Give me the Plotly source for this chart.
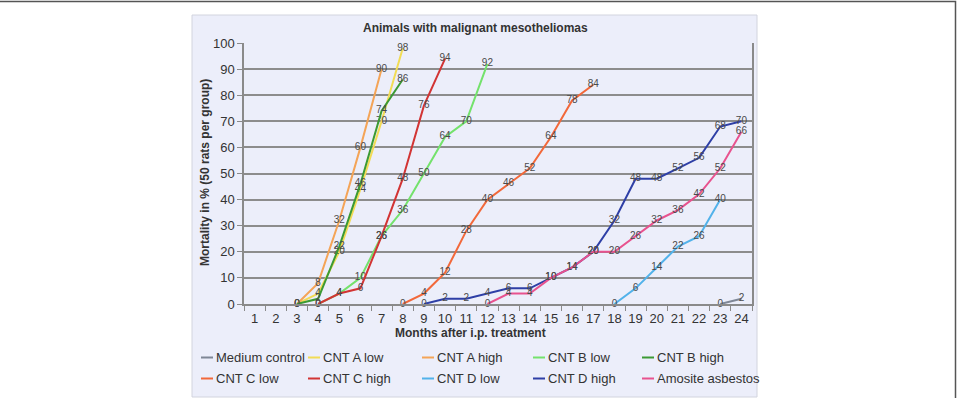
import plotly.graph_objects as go

months = list(range(1, 25))
tick_labels = [str(m) for m in months]

series_names = ["Medium control", "CNT A low", "CNT A high", "CNT B low", "CNT B high",
                "CNT C low", "CNT C high", "CNT D low", "CNT D high", "Amosite asbestos"]

medium_x = [23, 24]
medium_y = [0, 2]
a_low_x = [3, 4, 5, 6, 7, 8]
a_low_y = [0, 4, 20, 44, 70, 98]
a_high_x = [3, 4, 5, 6, 7]
a_high_y = [0, 8, 32, 60, 90]
b_low_x = [4, 5, 6, 7, 8, 9, 10, 11, 12]
b_low_y = [0, 4, 10, 26, 36, 50, 64, 70, 92]
b_high_x = [3, 4, 5, 6, 7, 8]
b_high_y = [0, 2, 22, 46, 74, 86]
c_low_x = [8, 9, 10, 11, 12, 13, 14, 15, 16, 17]
c_low_y = [0, 4, 12, 28, 40, 46, 52, 64, 78, 84]
c_high_x = [4, 5, 6, 7, 8, 9, 10]
c_high_y = [0, 4, 6, 26, 48, 76, 94]
d_low_x = [18, 19, 20, 21, 22, 23]
d_low_y = [0, 6, 14, 22, 26, 40]
d_high_x = [9, 10, 11, 12, 13, 14, 15, 16, 17, 18, 19, 20, 21, 22, 23, 24]
d_high_y = [0, 2, 2, 4, 6, 6, 10, 14, 20, 32, 48, 48, 52, 56, 68, 70]
amosite_x = [12, 13, 14, 15, 16, 17, 18, 19, 20, 21, 22, 23, 24]
amosite_y = [0, 4, 4, 10, 14, 20, 20, 26, 32, 36, 42, 52, 66]

colors = ["#7f8796", "#f2dc55", "#f4a457", "#74e26c", "#3c9a34",
          "#f2683a", "#d23434", "#52b2ea", "#2e3fa6", "#e8528e"]

xs = [medium_x, a_low_x, a_high_x, b_low_x, b_high_x, c_low_x, c_high_x, d_low_x, d_high_x, amosite_x]
ys = [medium_y, a_low_y, a_high_y, b_low_y, b_high_y, c_low_y, c_high_y, d_low_y, d_high_y, amosite_y]

FONT = "Liberation Sans, Arial, sans-serif"

# plot area pixels
L, R, T, B = 244, 752, 43, 304
W, H = 959, 398
pw, ph = R - L, B - T


def px_x(p):
    return (p - L) / pw


def px_y(p):
    return (B - p) / ph


fig = go.Figure()
for i, (name, x, y, c) in enumerate(zip(series_names, xs, ys, colors)):
    fig.add_trace(go.Scatter(
        x=x, y=y, name=name, mode="lines+text",
        text=[str(v) for v in y], textposition="middle center",
        textfont=dict(size=10, color="#4a4a4a", family=FONT),
        line=dict(color=c, width=2),
        cliponaxis=False, showlegend=False,
    ))

shapes = [
    # outer frame
    dict(type="rect", xref="paper", yref="paper",
         x0=px_x(-2), x1=px_x(955.5), y0=px_y(402), y1=px_y(1.5),
         line=dict(color="#555555", width=1.5), fillcolor="rgba(0,0,0,0)", layer="below"),
    # chart panel
    dict(type="rect", xref="paper", yref="paper",
         x0=px_x(192), x1=px_x(757), y0=px_y(397), y1=px_y(15),
         line=dict(color="#d2d4de", width=1), fillcolor="#eceefa", layer="below"),
]

annotations = [
    dict(text="<b>Animals with malignant mesotheliomas</b>", xref="paper", yref="paper",
         x=px_x(475), y=px_y(28), showarrow=False, xanchor="center", yanchor="middle",
         font=dict(size=12, color="#333333", family=FONT)),
    dict(text="<b>Mortality in % (50 rats per group)</b>", xref="paper", yref="paper",
         x=px_x(205), y=px_y(173), showarrow=False, xanchor="center", yanchor="middle",
         textangle=-90, font=dict(size=12, color="#333333", family=FONT)),
    dict(text="<b>Months after i.p. treatment</b>", xref="paper", yref="paper",
         x=px_x(470), y=px_y(333), showarrow=False, xanchor="center", yanchor="middle",
         font=dict(size=12, color="#333333", family=FONT)),
]

# legend: two rows of five entries, each a short coloured line followed by the name
legend_cols = [201, 308, 422, 533, 642]
legend_rows = [357, 378]
for i, (name, c) in enumerate(zip(series_names, colors)):
    lx = legend_cols[i % 5]
    ly = legend_rows[i // 5]
    shapes.append(dict(
        type="line", xref="paper", yref="paper",
        x0=px_x(lx), x1=px_x(lx + 12), y0=px_y(ly + 0.5), y1=px_y(ly + 0.5),
        line=dict(color=c, width=2),
    ))
    annotations.append(dict(
        text=name, xref="paper", yref="paper",
        x=px_x(lx + 13), y=px_y(ly), showarrow=False, xanchor="left", yanchor="middle",
        font=dict(size=13, color="#333333", family=FONT),
    ))

fig.update_layout(
    width=W, height=H,
    margin=dict(l=L, r=W - R, t=T, b=H - B, autoexpand=False),
    paper_bgcolor="white", plot_bgcolor="#eceefa",
    font=dict(family=FONT, color="#333333"),
    showlegend=False,
    shapes=shapes, annotations=annotations,
    xaxis=dict(range=[0.5, 24.5], tickmode="array", tickvals=months, ticktext=tick_labels,
               showgrid=False, zeroline=False, showline=True, linecolor="#8a8a8a", linewidth=1.5,
               ticks="", ticklabelstandoff=2, tickfont=dict(size=13, color="#333333")),
    yaxis=dict(range=[0, 100], dtick=10, showgrid=True, gridcolor="#8c8c8c", gridwidth=1.5,
               zeroline=False, showline=True, linecolor="#8a8a8a", linewidth=1.5, mirror=True,
               ticks="outside", ticklen=5, tickcolor="#8a8a8a",
               tickfont=dict(size=13, color="#333333")),
)
fig.update_xaxes(minor=dict(tickmode="linear", tick0=0.5, dtick=1, ticks="outside", ticklen=5,
                            tickcolor="#8a8a8a", showgrid=False))

fig.write_html("out.html")
